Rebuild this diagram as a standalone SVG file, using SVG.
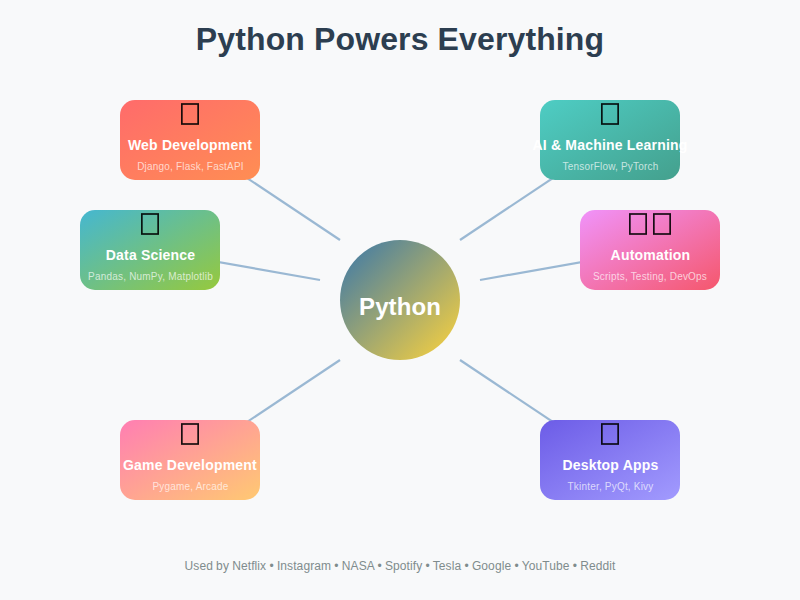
<svg xmlns="http://www.w3.org/2000/svg" width="800" height="600" viewBox="0 0 800 600">
<style>
text{font-family:"Liberation Sans",Arial,sans-serif;text-anchor:middle}
.title{font-size:32px;font-weight:700;fill:#2c3e50;letter-spacing:.125px}
.tofu{fill:none;stroke:#000;stroke-width:1.7;stroke-opacity:.9}
.name{font-size:14px;font-weight:700;fill:#fff;letter-spacing:.2px}
.sub{font-size:10px;fill:#fff;fill-opacity:.7;letter-spacing:.2px}
.center{font-size:24px;font-weight:700;fill:#fff;letter-spacing:.1px}
.foot{font-size:12px;fill:#7f8c8d;letter-spacing:.1px;word-spacing:-.25px}
.link{stroke:#9ab8d3;stroke-width:2.2;fill:none}
</style>
<defs>
<linearGradient id="gc" x1="0" y1="0" x2="1" y2="1"><stop offset="0" stop-color="#3776ab"/><stop offset="1" stop-color="#ffd43b"/></linearGradient>
<linearGradient id="g1" x1="0" y1="0" x2="1" y2="1"><stop offset="0" stop-color="#ff6b6b"/><stop offset="1" stop-color="#ff8e53"/></linearGradient>
<linearGradient id="g2" x1="0" y1="0" x2="1" y2="1"><stop offset="0" stop-color="#4ecdc4"/><stop offset="1" stop-color="#44a08d"/></linearGradient>
<linearGradient id="g3" x1="0" y1="0" x2="1" y2="1"><stop offset="0" stop-color="#45b7d1"/><stop offset="1" stop-color="#96c93d"/></linearGradient>
<linearGradient id="g4" x1="0" y1="0" x2="1" y2="1"><stop offset="0" stop-color="#f093fb"/><stop offset="1" stop-color="#f5576c"/></linearGradient>
<linearGradient id="g5" x1="0" y1="0" x2="1" y2="1"><stop offset="0" stop-color="#ff7eb3"/><stop offset="1" stop-color="#ffc972"/></linearGradient>
<linearGradient id="g6" x1="0" y1="0" x2="1" y2="1"><stop offset="0" stop-color="#6c5ce7"/><stop offset="1" stop-color="#a29bfe"/></linearGradient>
</defs>
<rect width="800" height="600" fill="#f8f9fa"/>
<text class="title" x="400" y="50">Python Powers Everything</text>
<g id="connectors">
<line class="link" x1="190" y1="140" x2="340" y2="240"/>
<line class="link" x1="610" y1="140" x2="460" y2="240"/>
<line class="link" x1="150" y1="250" x2="320" y2="280"/>
<line class="link" x1="650" y1="250" x2="480" y2="280"/>
<line class="link" x1="190" y1="460" x2="340" y2="360"/>
<line class="link" x1="610" y1="460" x2="460" y2="360"/>
</g>
<g id="python"><circle cx="400" cy="300" r="60" fill="url(#gc)"/><text class="center" x="400" y="315">Python</text></g>
<g id="web"><rect x="120" y="100" width="140" height="80" rx="15" fill="url(#g1)"/><rect class="tofu" x="181.85" y="104" width="16.3" height="20"/><text class="name" x="190" y="150">Web Development</text><text class="sub" x="190.5" y="170">Django, Flask, FastAPI</text></g>
<g id="ai"><rect x="540" y="100" width="140" height="80" rx="15" fill="url(#g2)"/><rect class="tofu" x="601.85" y="104" width="16.3" height="20"/><text class="name" x="610" y="150">AI &amp; Machine Learning</text><text class="sub" x="610.5" y="170">TensorFlow, PyTorch</text></g>
<g id="data"><rect x="80" y="210" width="140" height="80" rx="15" fill="url(#g3)"/><rect class="tofu" x="141.85" y="214" width="16.3" height="20"/><text class="name" x="150.5" y="260">Data Science</text><text class="sub" x="150.5" y="280">Pandas, NumPy, Matplotlib</text></g>
<g id="automation"><rect x="580" y="210" width="140" height="80" rx="15" fill="url(#g4)"/><rect class="tofu" x="629.85" y="214" width="16.3" height="20"/><rect class="tofu" x="653.85" y="214" width="16.3" height="20"/><text class="name" x="650.5" y="260">Automation</text><text class="sub" x="650" y="280">Scripts, Testing, DevOps</text></g>
<g id="game"><rect x="120" y="420" width="140" height="80" rx="15" fill="url(#g5)"/><rect class="tofu" x="181.85" y="424" width="16.3" height="20"/><text class="name" x="190" y="470">Game Development</text><text class="sub" x="190.5" y="490">Pygame, Arcade</text></g>
<g id="desktop"><rect x="540" y="420" width="140" height="80" rx="15" fill="url(#g6)"/><rect class="tofu" x="601.85" y="424" width="16.3" height="20"/><text class="name" x="610.5" y="470">Desktop Apps</text><text class="sub" x="610.5" y="490">Tkinter, PyQt, Kivy</text></g>
<text class="foot" x="400" y="570">Used by Netflix • Instagram • NASA • Spotify • Tesla • Google • YouTube • Reddit</text>
</svg>
